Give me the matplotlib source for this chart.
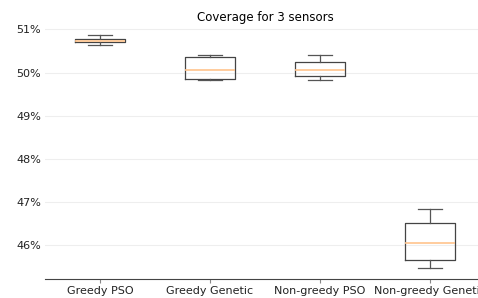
import matplotlib
matplotlib.use("Agg")
import matplotlib.pyplot as plt
from matplotlib.ticker import FuncFormatter

categories = ["Greedy PSO", "Greedy Genetic", "Non-greedy PSO", "Non-greedy Genetic"]
# box statistics in percent: whisker low, q1, median, q3, whisker high
whislo = [50.63, 49.83, 49.83, 45.48]
q1 = [50.71, 49.86, 49.91, 45.65]
med = [50.74, 50.065, 50.065, 46.05]
q3 = [50.77, 50.35, 50.24, 46.51]
whishi = [50.86, 50.40, 50.40, 46.85]
title = "Coverage for 3 sensors"

stats = []
for i, c in enumerate(categories):
    stats.append(dict(label=c, whislo=whislo[i], q1=q1[i], med=med[i],
                      q3=q3[i], whishi=whishi[i], fliers=[]))

fig = plt.figure(figsize=(4.78, 2.98), dpi=100)
ax = fig.add_axes([45/478, (298-279)/298, 440/478, (279-23.7)/298])
ax.bxp(stats, positions=[1, 2, 3, 4], widths=0.45, showfliers=False,
       boxprops=dict(color="#444444", linewidth=0.9),
       whiskerprops=dict(color="#555555", linewidth=0.9),
       capprops=dict(color="#555555", linewidth=0.9),
       medianprops=dict(color="#ffc38c", linewidth=1.2))
ax.set_xlim(0.5, 4.5)
ax.set_ylim(45.22, 51.13)
ax.yaxis.set_major_formatter(FuncFormatter(lambda v, p: f"{v:.0f}%"))
ax.set_yticks([46, 47, 48, 49, 50, 51])
ax.grid(axis="y", color="#eeeeee", linewidth=0.8)
ax.set_axisbelow(True)
for s in ["top", "right", "left"]:
    ax.spines[s].set_visible(False)
ax.spines["bottom"].set_color("#444444")
ax.spines["bottom"].set_linewidth(0.8)
ax.tick_params(axis="y", length=0, labelsize=8, pad=3, labelcolor="#222222")
ax.tick_params(axis="x", length=3, color="#888888", labelsize=8, pad=2, labelcolor="#222222")
ax.set_title(title, fontsize=8.5, pad=2)
fig.savefig("out.png", dpi=100)
